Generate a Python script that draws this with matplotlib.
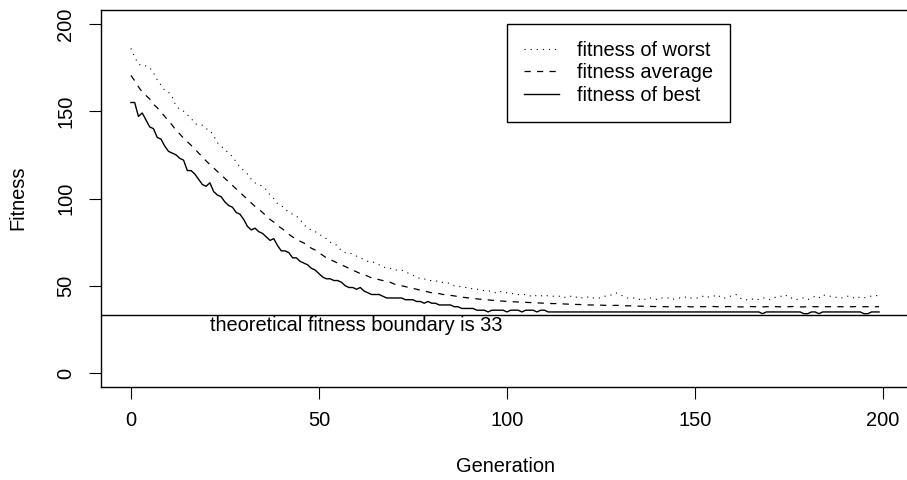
import numpy as np
import matplotlib
matplotlib.use("Agg")
import matplotlib.pyplot as plt

plt.rcParams["font.family"] = ["Liberation Sans", "DejaVu Sans"]

# fitness per generation
best = [
    155, 155, 147, 149, 145, 141, 140, 135, 134, 130,
    127, 126, 125, 123, 122, 116, 116, 114, 111, 108,
    107, 109, 104, 102, 101, 98, 96, 95, 92, 91,
    88, 84, 82, 83, 81, 80, 78, 76, 77, 73,
    70, 70, 69, 66, 66, 64, 63, 62, 60, 59,
    57, 55, 54, 54, 53, 53, 52, 50, 49, 49,
    48, 49, 47, 46, 45, 45, 45, 44, 43, 43,
    43, 43, 43, 42, 42, 42, 41, 41, 40, 41,
    40, 40, 39, 39, 39, 39, 38, 38, 37, 37,
    37, 37, 36, 36, 36, 35, 36, 36, 36, 36,
    35, 36, 36, 36, 35, 36, 36, 36, 35, 36,
    36, 35, 35, 35, 35, 35, 35, 35, 35, 35,
    35, 35, 35, 35, 35, 35, 35, 35, 35, 35,
    35, 35, 35, 35, 35, 35, 35, 35, 35, 35,
    35, 35, 35, 35, 35, 35, 35, 35, 35, 35,
    35, 35, 35, 35, 35, 35, 35, 35, 35, 35,
    35, 35, 35, 35, 35, 35, 35, 35, 34, 35,
    35, 35, 35, 35, 35, 35, 35, 35, 35, 34,
    34, 35, 35, 34, 35, 35, 35, 35, 35, 35,
    35, 35, 35, 35, 35, 34, 34, 35, 35, 35,
]

average = [
    170.5, 167.5, 164.0, 161.0, 159.0, 157.0, 154.0, 152.0, 149.5, 147.0,
    144.5, 142.0, 139.0, 137.0, 134.5, 132.5, 130.5, 128.5, 126.0, 124.0,
    121.5, 119.5, 117.5, 115.5, 113.5, 111.5, 109.5, 107.5, 105.5, 103.5,
    101.5, 99.5, 97.5, 95.5, 94.0, 92.0, 90.0, 88.0, 86.5, 84.5,
    83.0, 81.5, 79.5, 78.0, 76.5, 75.5, 74.5, 73.0, 71.5, 70.5,
    69.0, 67.5, 66.0, 65.0, 64.0, 63.0, 62.0, 61.0, 60.0, 59.0,
    58.0, 57.0, 56.5, 55.5, 54.5, 54.0, 53.5, 53.0, 52.5, 52.0,
    51.0, 50.5, 50.0, 49.5, 49.0, 48.5, 48.0, 47.5, 47.0, 46.5,
    46.0, 45.8, 45.5, 45.0, 44.8, 44.5, 44.2, 43.8, 43.5, 43.2,
    43.0, 42.8, 42.5, 42.3, 42.1, 41.9, 41.7, 41.5, 41.3, 41.2,
    41.0, 40.9, 40.8, 40.7, 40.6, 40.5, 40.4, 40.3, 40.2, 40.1,
    40.0, 39.9, 39.8, 39.8, 39.7, 39.6, 39.5, 39.4, 39.3, 39.3,
    39.2, 39.1, 39.0, 39.0, 38.9, 38.9, 38.8, 38.8, 38.7, 38.8,
    38.7, 38.6, 38.5, 38.5, 38.4, 38.3, 38.3, 38.2, 38.2, 38.1,
    38.1, 38.1, 38.0, 38.0, 38.0, 38.0, 38.0, 38.0, 38.1, 37.9,
    38.0, 38.1, 38.0, 38.0, 38.2, 38.1, 38.0, 37.9, 38.0, 38.1,
    38.0, 38.0, 37.9, 37.9, 38.0, 38.1, 38.0, 37.9, 37.9, 38.0,
    38.0, 38.1, 38.0, 37.9, 38.0, 38.0, 38.1, 38.0, 37.9, 37.9,
    38.0, 38.1, 38.0, 38.0, 37.9, 38.0, 38.0, 38.1, 38.0, 38.0,
    37.9, 38.0, 38.0, 38.1, 38.0, 38.0, 38.0, 37.9, 38.0, 38.0,
]

worst = [
    186, 181, 177, 176, 176, 175, 172, 168, 165, 162,
    161, 158, 153, 151, 150, 148, 146, 143, 142, 142,
    140, 139, 136, 132, 130, 128, 126, 124, 121, 118,
    116, 114, 111, 109, 108, 107, 105, 102, 100, 97,
    96, 94, 92, 91, 90, 88, 85, 83, 82, 81,
    80, 78, 77, 75, 74, 73, 70, 69, 69, 68,
    67, 66, 65, 64, 64, 63, 62, 61, 60, 60,
    59, 59, 59, 58, 57, 56, 55, 54, 54, 53,
    53, 53, 52, 52, 52, 51, 50, 50, 49, 49,
    49, 48, 48, 48, 47, 47, 47, 46, 47, 46,
    46, 46, 45, 45, 45, 45, 44, 45, 44, 44,
    45, 44, 44, 44, 44, 43, 44, 44, 43, 44,
    43, 43, 44, 43, 43, 43, 44, 44, 45, 46,
    45, 44, 43, 43, 43, 42, 43, 42, 43, 43,
    42, 43, 43, 43, 42, 43, 43, 43, 44, 43,
    43, 43, 44, 43, 44, 44, 45, 43, 43, 44,
    44, 45, 43, 42, 42, 42, 43, 42, 43, 43,
    42, 43, 44, 44, 45, 43, 43, 42, 43, 43,
    42, 43, 44, 43, 45, 44, 44, 44, 43, 43,
    44, 44, 43, 44, 43, 43, 44, 44, 44, 45,
]

boundary = 33
xticks = [0, 50, 100, 150, 200]
yticks = [0, 50, 100, 150, 200]


def main():
    generations = np.arange(len(best))

    fig = plt.figure(figsize=(9.07, 4.8), dpi=100)
    # plot region runs slightly past the right edge, as in the reference
    ax = fig.add_axes([101 / 907, 93 / 480, 808 / 907, 377 / 480])

    ax.plot(generations, worst, color="black", lw=0.8, dashes=(1, 4.5), label="fitness of worst")
    ax.plot(generations, average, color="black", lw=0.9, dashes=(5, 5), label="fitness average")
    ax.plot(generations, best, color="black", lw=1.0, label="fitness of best")
    ax.axhline(boundary, color="black", lw=1.0)
    ax.text(60, 27, f"theoretical fitness boundary is {boundary}", ha="center", va="center", fontsize=14.4)

    ax.set_xlim(-7.96, 206.96)
    ax.set_ylim(-8, 208)
    ax.set_xticks(xticks)
    ax.set_yticks(yticks)
    ax.tick_params(direction="out", length=8.5, width=0.8, labelsize=14.4, pad=9)
    ax.tick_params(axis="y", labelrotation=90, pad=10)
    for lab in ax.get_yticklabels():
        lab.set_va("center")
    for s in ax.spines.values():
        s.set_linewidth(1.0)
    ax.spines["right"].set_visible(False)

    fig.text(18 / 907, 1 - 198 / 480, "Fitness", rotation=90, ha="center", va="center", fontsize=14.4)
    fig.text(505 / 907, 1 - 467 / 480, "Generation", ha="center", va="center", fontsize=14.4)

    leg = ax.legend(loc="upper left", bbox_to_anchor=(100, 200), bbox_transform=ax.transData,
                    fontsize=14.4, frameon=True, fancybox=False, framealpha=1, edgecolor="black",
                    borderaxespad=0, handlelength=1.75, handletextpad=0.9, labelspacing=0.17,
                    borderpad=0.85)
    leg.get_frame().set_linewidth(1.0)

    fig.savefig("out.png", dpi=100)


if __name__ == "__main__":
    main()
